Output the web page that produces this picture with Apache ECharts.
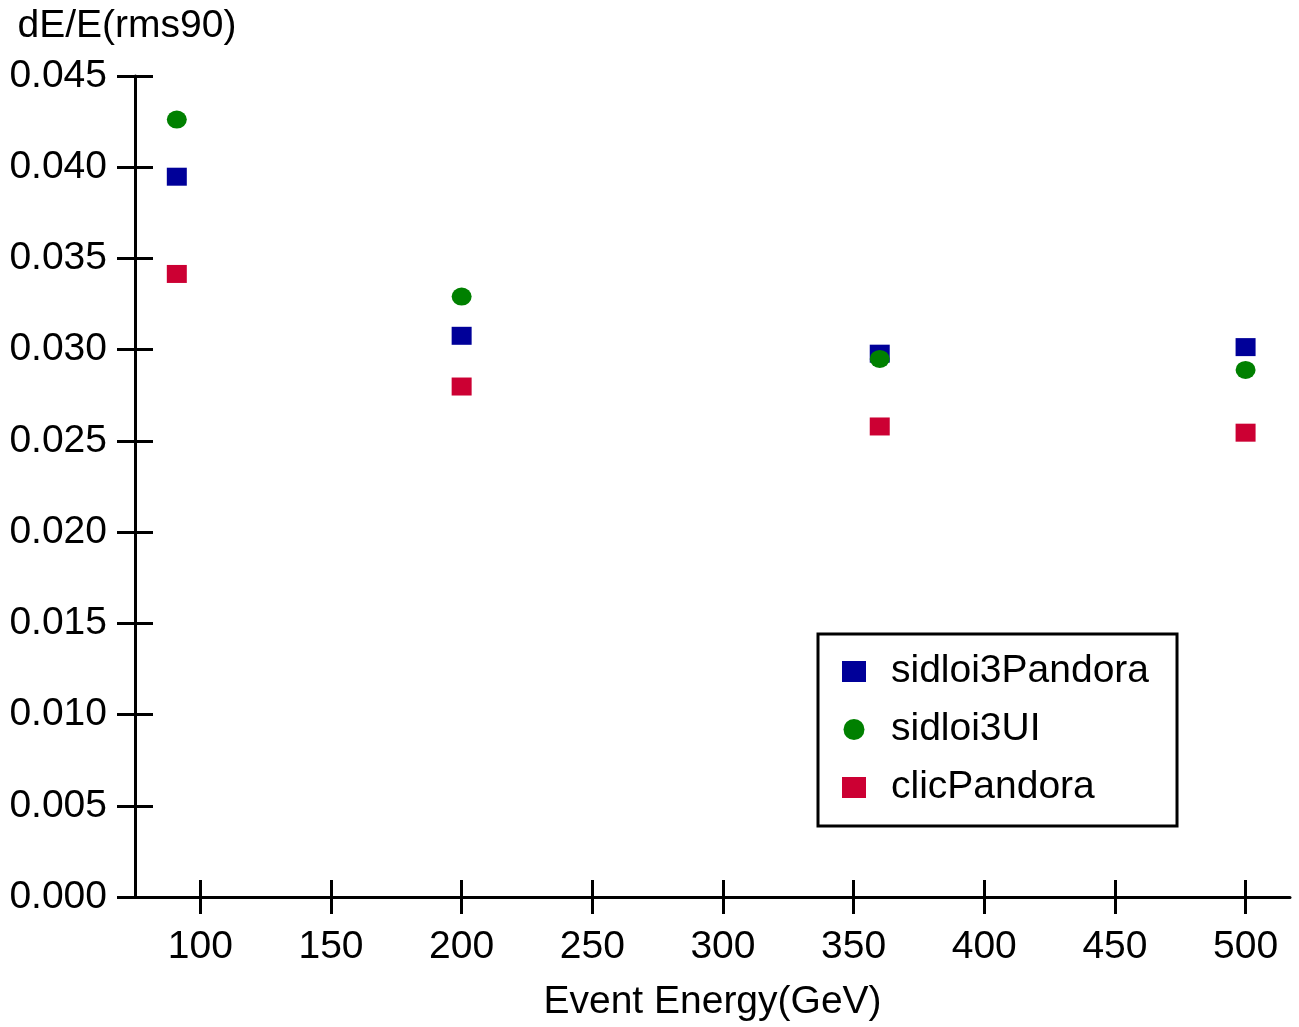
<!DOCTYPE html>
<html>
<head>
<meta charset="utf-8">
<title>dE/E vs Event Energy</title>
<script src="https://cdn.jsdelivr.net/npm/echarts@6/dist/echarts.min.js"></script>
<style>
  html, body { margin: 0; padding: 0; background: #ffffff; }
  #chart { width: 1299px; height: 1027px; }
</style>
</head>
<body>
<div id="chart"></div>
<script>
const ENERGIES = [91, 200, 360, 500];
const SIDLOI3_PANDORA = [0.03948, 0.03076, 0.02978, 0.03014];
const SIDLOI3_UI = [0.04261, 0.03291, 0.02949, 0.02889];
const CLIC_PANDORA = [0.03415, 0.02798, 0.02579, 0.02545];
const X_TICKS = [100, 150, 200, 250, 300, 350, 400, 450, 500];

const COLORS = {
  sidPandora: "#000099",
  sidUI: "#008000",
  clic: "#cc0033",
};

const FONT = "'Liberation Sans', Arial, sans-serif";
const FONT_SIZE = 39;

function toPoints(values) {
  return ENERGIES.map((x, i) => [x, values[i]]);
}

const chart = echarts.init(document.getElementById("chart"), null, { renderer: "canvas" });

const axisLineStyle = { color: "#000", width: 3 };

chart.setOption({
  backgroundColor: "#ffffff",
  animation: false,
  grid: { left: 135, right: 9, top: 76, bottom: 127, containLabel: false },
  legend: {
    left: 818,
    top: 634,
    orient: "vertical",
    selectedMode: false,
    itemWidth: 24,
    itemHeight: 21,
    itemGap: 19,
    padding: [18, 28, 19, 24],
    borderColor: "#000",
    borderWidth: 3,
    textStyle: {
      fontFamily: FONT,
      fontSize: FONT_SIZE,
      color: "#000",
      lineHeight: 39,
      padding: [0, 0, 0, 20],
    },
    data: [
      { name: "sidloi3Pandora", icon: "rect", itemStyle: { opacity: 1 } },
      { name: "sidloi3UI", icon: "circle", itemStyle: { opacity: 1 } },
      { name: "clicPandora", icon: "rect", itemStyle: { opacity: 1 } },
    ],
  },
  xAxis: [
    {
      type: "value",
      position: "bottom",
      min: 75,
      max: 517,
      name: "Event Energy(GeV)",
      nameLocation: "middle",
      nameGap: 86,
      nameTextStyle: { fontFamily: FONT, fontSize: FONT_SIZE, color: "#000" },
      axisLine: { show: true, onZero: false, lineStyle: axisLineStyle },
      axisTick: { show: true, length: 17, lineStyle: axisLineStyle, customValues: X_TICKS },
      axisLabel: {
        fontFamily: FONT, fontSize: FONT_SIZE, color: "#000", margin: 31,
        customValues: X_TICKS,
      },
      splitLine: { show: false },
    },
    {
      type: "value",
      position: "bottom",
      min: 75,
      max: 517,
      axisLine: { show: false, onZero: false },
      axisTick: { show: true, inside: true, length: 17, lineStyle: axisLineStyle, customValues: X_TICKS },
      axisLabel: { show: false },
      splitLine: { show: false },
    },
  ],
  yAxis: [
    {
      type: "value",
      position: "left",
      min: 0,
      max: 0.045,
      interval: 0.005,
      name: "dE/E(rms90)",
      nameLocation: "end",
      nameGap: 30,
      nameTextStyle: {
        fontFamily: FONT, fontSize: FONT_SIZE, color: "#000", align: "center",
        padding: [0, 16, 0, 0],
      },
      axisLine: { show: true, onZero: false, lineStyle: axisLineStyle },
      axisTick: { show: true, length: 18, lineStyle: axisLineStyle },
      axisLabel: {
        fontFamily: FONT, fontSize: FONT_SIZE, color: "#000", margin: 28,
        padding: [8, 0, 0, 0],
        formatter: (v) => v.toFixed(3),
      },
      splitLine: { show: false },
    },
    {
      type: "value",
      position: "left",
      min: 0,
      max: 0.045,
      interval: 0.005,
      axisLine: { show: false, onZero: false },
      axisTick: { show: true, inside: true, length: 18, lineStyle: axisLineStyle },
      axisLabel: { show: false },
      splitLine: { show: false },
    },
  ],
  series: [
    {
      name: "sidloi3Pandora",
      type: "scatter",
      symbol: "rect",
      symbolSize: [20, 18],
      itemStyle: { color: COLORS.sidPandora, opacity: 1 },
      data: toPoints(SIDLOI3_PANDORA),
    },
    {
      name: "sidloi3UI",
      type: "scatter",
      symbol: "circle",
      symbolSize: [20, 18],
      itemStyle: { color: COLORS.sidUI, opacity: 1 },
      data: toPoints(SIDLOI3_UI),
    },
    {
      name: "clicPandora",
      type: "scatter",
      symbol: "rect",
      symbolSize: [20, 18],
      itemStyle: { color: COLORS.clic, opacity: 1 },
      data: toPoints(CLIC_PANDORA),
    },
  ],
});
</script>
</body>
</html>
